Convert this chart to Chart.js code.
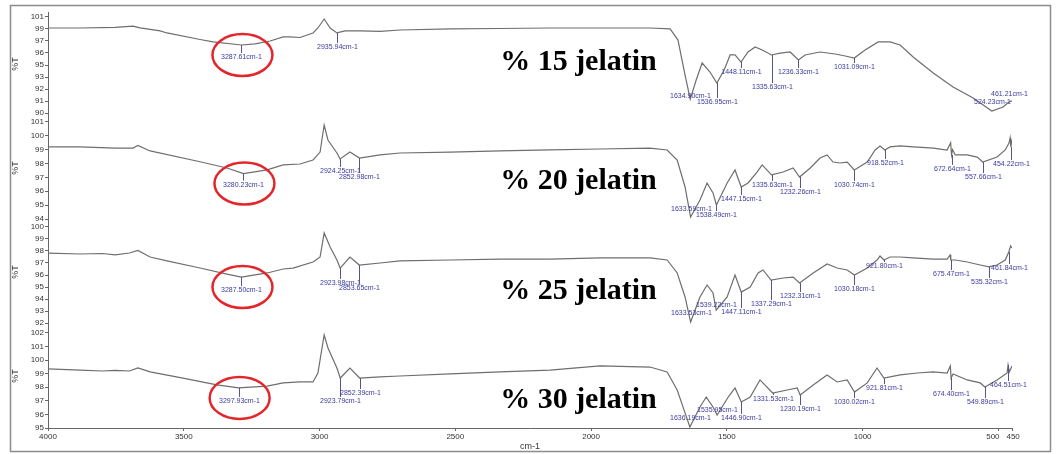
<!DOCTYPE html>
<html><head><meta charset="utf-8">
<script src="https://cdn.jsdelivr.net/npm/chart.js@4.4.0/dist/chart.umd.min.js"></script>
<style>html,body{margin:0;padding:0;background:#fff;overflow:hidden}#wrap{width:1060px;height:454px;position:relative}</style>
</head><body><div id="wrap"><canvas id="c" width="1060" height="454"></canvas></div>
<script>
// ---------- DATA ----------
const xTicks = [4000, 3500, 3000, 2500, 2000, 1500, 1000, 500, 450];
const xTickLabels = ['4000', '3500', '3000', '2500', '2000', '1500', '1000', '500', '450'];
const panelNames = ['% 15 jelatin', '% 20 jelatin', '% 25 jelatin', '% 30 jelatin'];

const p1TickLabels = ['90', '91', '92', '93', '95', '96', '97', '99', '101'];
const p2TickLabels = ['94', '95', '96', '97', '98', '99', '100', '101'];
const p3TickLabels = ['92', '93', '94', '95', '96', '97', '98', '99', '100'];
const p4TickLabels = ['95', '96', '97', '98', '99', '100', '101', '102'];

const p1Wn = [4000,3882,3753,3687,3661,3587,3562,3440,3392,3287.61,3238,3182,3134,3109,3072,3024,3006,2983,2961,2935.94,2906,2851,2777,2704,2519,2335,2151,1967,1783,1709,1680,1654,1634.90,1613,1591,1562,1536.95,1510,1488,1470,1448.11,1422,1396,1370,1335.63,1304,1267,1236.33,1212,1157,1101,1064,1031.09,991,943,899,862,814,740,667,593,556,524.23,483,461.21,450];
const p1T = [99.74,99.74,99.80,99.95,99.75,99.40,99.17,98.42,98.14,97.79,97.91,98.25,98.71,98.71,98.65,99.17,99.74,100.77,99.74,99.17,99.40,99.40,99.34,99.51,99.63,99.68,99.74,99.74,99.74,99.63,98.36,94.35,91.60,93.78,95.73,94.70,93.44,94.93,96.65,96.65,95.84,96.99,97.56,97.22,96.65,96.87,96.99,96.07,96.65,96.99,96.76,96.53,96.30,97.22,98.14,98.14,97.79,96.42,94.58,92.98,91.72,90.92,90.23,90.69,91.26,91.40];

const p2Wn = [4000,3882,3753,3687,3669,3624,3440,3341,3280.23,3193,3134,3072,3024,2998,2983,2969,2936,2924.25,2888,2852.98,2777,2704,2519,2335,2151,1967,1783,1720,1683,1654,1633.59,1599,1573,1551,1538.49,1499,1470,1447.15,1422,1389,1370,1335.63,1293,1256,1232.26,1193,1157,1131,1109,1083,1057,1030.74,983,954,936,918.52,899,862,814,740,689,676,672.64,669,659,615,578,557.66,505,475,461,457,454.22,450];
const p2T = [99.20,99.20,99.12,99.12,99.30,98.91,98.13,97.68,97.28,97.54,97.90,97.97,98.26,98.83,100.78,99.70,98.76,98.33,98.83,98.40,98.62,98.76,98.83,98.91,98.98,99.05,99.12,98.98,98.26,96.31,94.14,95.37,96.60,95.88,95.01,96.60,97.54,96.31,96.60,97.39,97.90,97.18,97.39,97.68,97.03,97.68,98.40,98.62,98.11,98.04,98.11,97.54,98.11,98.98,99.27,98.98,99.20,99.27,99.20,99.12,98.98,99.50,98.62,99.00,98.62,98.62,98.47,98.11,98.47,98.98,99.48,99.85,99.20,99.70];

const p3Wn = [4000,3882,3800,3753,3700,3669,3624,3562,3440,3341,3287.50,3193,3134,3098,3024,2998,2983,2961,2936,2923.98,2888,2853.65,2777,2704,2519,2335,2151,1967,1783,1720,1683,1654,1633.53,1599,1573,1551,1539.22,1499,1470,1447.11,1414,1385,1367,1337.29,1293,1256,1232.31,1182,1131,1094,1057,1030.18,983,947,936,921.80,899,862,814,740,689,678,675.47,659,615,567,535.32,505,475,461.84,455,450];
const p3T = [97.83,97.75,97.79,97.67,97.83,98.04,97.50,97.17,96.58,96.08,95.83,96.17,96.50,96.58,97.08,97.50,99.50,98.33,97.25,96.58,97.50,96.83,97.00,97.17,97.25,97.33,97.33,97.42,97.42,97.25,96.17,94.17,92.08,94.17,95.17,94.50,93.08,94.17,96.00,94.58,95.00,96.17,96.42,95.58,95.75,95.83,95.33,96.17,96.92,96.58,96.42,96.00,96.58,97.25,97.58,97.25,97.50,97.50,97.42,97.33,97.33,97.67,97.25,97.25,97.08,96.83,96.67,96.83,97.25,97.92,98.42,98.25];

const p4Wn = [4000,3882,3800,3753,3700,3669,3624,3503,3378,3297.93,3193,3134,3072,3024,3006,2983,2969,2936,2923.79,2888,2852.39,2777,2704,2519,2335,2151,1967,1783,1720,1683,1654,1636.19,1599,1576,1551,1535.95,1495,1470,1446.90,1414,1378,1331.53,1278,1241,1230.19,1182,1131,1094,1057,1030.02,983,947,921.81,862,799,740,689,677,674.40,667,615,567,549.89,505,468,464.51,460,450];
const p4T = [99.35,99.27,99.20,99.24,99.20,99.42,99.13,98.68,98.17,97.95,98.09,98.32,98.39,98.39,99.05,101.85,100.89,99.42,98.68,99.42,98.68,98.76,98.83,98.98,99.13,99.27,99.57,99.49,99.13,97.80,96.11,95.07,96.55,97.28,96.55,95.96,97.28,97.95,96.92,97.28,98.54,97.58,97.80,97.95,97.43,98.17,98.91,98.39,98.54,97.65,98.32,99.42,98.68,98.91,99.05,99.13,99.05,99.57,98.68,98.98,98.54,98.32,98.02,98.54,99.05,99.64,99.13,99.57];

const p1Peaks = [3287.61, 2935.94, 1634.90, 1536.95, 1448.11, 1335.63, 1236.33, 1031.09, 524.23, 461.21];
const p2Peaks = [3280.23, 2924.25, 2852.98, 1633.59, 1538.49, 1447.15, 1335.63, 1232.26, 1030.74, 918.52, 672.64, 557.66, 454.22];
const p3Peaks = [3287.50, 2923.98, 2853.65, 1633.53, 1539.22, 1447.11, 1337.29, 1232.31, 1030.18, 921.80, 675.47, 535.32, 461.84];
const p4Peaks = [3297.93, 2923.79, 2852.39, 1636.19, 1535.95, 1446.90, 1331.53, 1230.19, 1030.02, 921.81, 674.40, 549.89, 464.51];

// ---------- STYLE / LAYOUT (annotation offsets in px) ----------
const p1Drops = [8, 10, -7, 15, 6, 28, 8, 5, -13, -12];
const p2Drops = [7, 8, 15, -13, 6, 8, 6, 11, 11, 9, 10, 11, 13];
const p3Drops = [9, 11, 19, -14, -10, 16, 20, 9, 10, 2, 10, 11, 12];
const p4Drops = [9, 19, 11, -13, -9, 12, 2, 10, 6, 6, 12, 11, 16];

const panels = [
  {id: 'p1', wn: p1Wn, t: p1T, min: 89.66, max: 101.57, tickLo: 90, tickHi: 101, labels: p1TickLabels, peaks: p1Peaks, drops: p1Drops, name: panelNames[0], nameY: 94.93, weight: 4},
  {id: 'p2', wn: p2Wn, t: p2T, min: 93.93, max: 101.43, tickLo: 94, tickHi: 101, labels: p2TickLabels, peaks: p2Peaks, drops: p2Drops, name: panelNames[1], nameY: 96.16, weight: 3},
  {id: 'p3', wn: p3Wn, t: p3T, min: 91.92, max: 100.58, tickLo: 92, tickHi: 100, labels: p3TickLabels, peaks: p3Peaks, drops: p3Drops, name: panelNames[2], nameY: 94.0, weight: 2},
  {id: 'p4', wn: p4Wn, t: p4T, min: 95.0, max: 102.66, tickLo: 95, tickHi: 102, labels: p4TickLabels, peaks: p4Peaks, drops: p4Drops, name: panelNames[3], nameY: 96.47, weight: 1}
];

function interp(wn, t, w) {
  for (let i = 0; i < wn.length - 1; i++) {
    const a = wn[i], b = wn[i + 1];
    if ((w <= a && w >= b)) {
      const f = (a - w) / (a - b || 1);
      return t[i] + (t[i + 1] - t[i]) * f;
    }
  }
  return t[t.length - 1];
}

const FONT = '"Liberation Sans", Arial, sans-serif';

const scales = {
  x: {
    type: 'linear', position: 'bottom', reverse: true, min: 450, max: 4000,
    afterBuildTicks: s => { s.ticks = xTicks.map(v => ({value: v})); },
    afterFit: s => { s.height = 24; },
    ticks: {autoSkip: false, maxRotation: 0, color: '#333', padding: 1, font: {size: 8, family: FONT},
      // nudge the two crowded right-hand labels apart, as in the original print
      callback: (v, i) => i === 7 ? xTickLabels[i] + '     ' : (i === 8 ? ' ' + xTickLabels[i] : xTickLabels[i])},
    grid: {display: true, drawOnChartArea: false, drawTicks: true, tickLength: 3, color: '#666'},
    border: {display: true, color: '#666', width: 1},
    title: {display: true, text: 'cm-1', color: '#333', font: {size: 9, family: FONT}, padding: {top: 0, bottom: 0}}
  }
};
panels.forEach(p => {
  scales[p.id] = {
    type: 'linear', position: 'left', stack: 'ftir', stackWeight: 1, weight: p.weight,
    min: p.min, max: p.max,
    afterBuildTicks: s => {
      const n = p.labels.length;
      s.ticks = p.labels.map((l, i) => ({value: p.tickLo + i * (p.tickHi - p.tickLo) / (n - 1)}));
    },
    afterFit: s => { s.width = 38; },
    ticks: {autoSkip: false, color: '#333', padding: 1, font: {size: 8, family: FONT},
      callback: (v, i) => p.labels[i]},
    grid: {display: true, drawOnChartArea: false, drawTicks: true, tickLength: 3, color: '#666'},
    border: {display: true, color: '#666', width: 1},
    title: {display: true, text: '%T', color: '#333', font: {size: 9, family: FONT}, padding: {top: 0, bottom: 2}}
  };
});

const frame = {
  id: 'frame',
  beforeDraw(chart) {
    const ctx = chart.ctx;
    ctx.save();
    ctx.fillStyle = '#fff';
    ctx.fillRect(0, 0, chart.width, chart.height);
    ctx.strokeStyle = '#8c8c8c';
    ctx.lineWidth = 1.5;
    ctx.strokeRect(10.5, 5.5, 1040, 446);
    ctx.restore();
  }
};

const annot = {
  id: 'annot',
  afterDatasetsDraw(chart) {
    const ctx = chart.ctx;
    const xs = chart.scales.x;
    panels.forEach(p => {
      const ys = chart.scales[p.id];
      ctx.save();
      ctx.lineWidth = 1;
      ctx.strokeStyle = '#55558a';
      ctx.fillStyle = '#3a3a9e';
      ctx.font = '7px ' + FONT;
      ctx.textAlign = 'center';
      ctx.textBaseline = 'top';
      p.peaks.forEach((w, i) => {
        const px = Math.round(xs.getPixelForValue(w)) + 0.5;
        const py = ys.getPixelForValue(interp(p.wn, p.t, w));
        const d = p.drops[i];
        if (d > 0) {
          ctx.beginPath(); ctx.moveTo(px, py); ctx.lineTo(px, py + d); ctx.stroke();
        }
        ctx.fillText(w.toFixed(2) + 'cm-1', px, py + d + 1);
      });
      // sample name
      ctx.fillStyle = '#000';
      ctx.font = 'bold 30px "Liberation Serif", "Times New Roman", serif';
      ctx.textAlign = 'left';
      ctx.textBaseline = 'alphabetic';
      ctx.fillText(p.name, xs.getPixelForValue(2335), ys.getPixelForValue(p.nameY));
      // red ellipse around the O-H band
      const w0 = p.peaks[0];
      const cx = xs.getPixelForValue(w0) + 1;
      const cy = ys.getPixelForValue(interp(p.wn, p.t, w0)) + 10;
      ctx.strokeStyle = '#e3262b';
      ctx.lineWidth = 2.5;
      ctx.beginPath();
      ctx.ellipse(cx, cy, 30, 21, 0, 0, Math.PI * 2);
      ctx.stroke();
      ctx.restore();
    });
  }
};

new Chart(document.getElementById('c'), {
  type: 'line',
  data: {
    datasets: panels.map(p => ({
      label: p.name,
      data: p.wn.map((w, i) => ({x: w, y: p.t[i]})),
      xAxisID: 'x', yAxisID: p.id,
      borderColor: '#6e6e6e', borderWidth: 1.2, pointRadius: 0, tension: 0, fill: false
    }))
  },
  options: {
    responsive: false, animation: false, devicePixelRatio: 1,
    layout: {padding: {left: 10, right: 48, top: 12, bottom: 2}},
    plugins: {legend: {display: false}, tooltip: {enabled: false}},
    scales: scales
  },
  plugins: [frame, annot]
});
</script></body></html>
